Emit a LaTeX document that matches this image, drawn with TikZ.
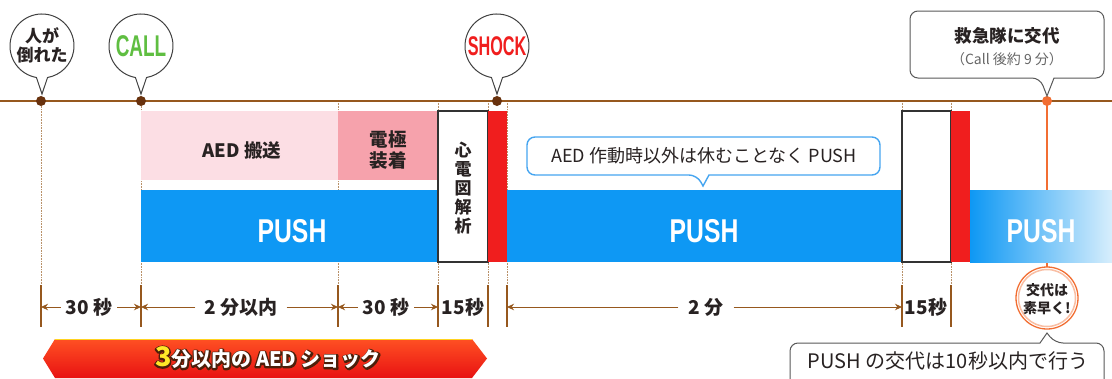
\documentclass[tikz,border=0pt]{standalone}
\usepackage{fontspec}
\usepackage{graphicx}
\setmainfont{Noto Sans CJK JP}
\newfontfamily\latinb{Liberation Sans}
\usetikzlibrary{arrows.meta}
\definecolor{tlbrown}{RGB}{150,88,30}
\definecolor{dotbrown}{RGB}{105,50,14}
\definecolor{guidebrown}{RGB}{185,145,105}
\definecolor{pushblue}{RGB}{14,152,244}
\definecolor{pushlight}{RGB}{215,238,252}
\definecolor{pinkL}{RGB}{252,222,228}
\definecolor{pinkD}{RGB}{246,162,172}
\definecolor{shockred}{RGB}{240,30,30}
\definecolor{callgreen}{RGB}{95,190,65}
\definecolor{txtdark}{RGB}{40,34,34}
\definecolor{calloutblue}{RGB}{70,165,240}
\definecolor{orangeL}{RGB}{242,110,50}
\definecolor{bannerred}{RGB}{232,18,18}
\definecolor{bannertop}{RGB}{255,80,35}
\definecolor{yel}{RGB}{255,232,40}
\newcommand\OLon{\special{pdf:literal direct 0.30 0.12 0.04 RG 3 w 1 j 1 Tr}}
\newcommand\OLoff{\special{pdf:literal direct 0 Tr}}
\newcommand\bannerbody{\fontsize{20}{20}\selectfont 分以内の AED ショック}
\begin{document}
\begin{tikzpicture}[x=1pt,y=-1pt,
  every node/.style={inner sep=0pt},
  guide/.style={draw=guidebrown, line width=0.6pt, densely dotted},
  tline/.style={draw=tlbrown, line width=2pt},
  tick/.style={draw=tlbrown, line width=1.1pt},
  dim/.style={draw=tlbrown, line width=1pt, -{Stealth[length=7pt,width=6.5pt]}},
  dimtxt/.style={text=txtdark, inner xsep=5pt, font=\bfseries\fontsize{19}{19}\selectfont},
  balloon/.style={draw=black!75, line width=1pt, fill=white},
  callout/.style={draw=black!65, line width=1pt, fill=white},
  pushtxt/.style={text=white, font=\latinb\bfseries\fontsize{33}{33}\selectfont},
  bartxt/.style={text=txtdark, align=center, font=\bfseries\fontsize{18.5}{21}\selectfont},
  bannerfont/.style={font=\bfseries}]
\fill[white] (0,0) rectangle (1112,378);
\useasboundingbox (0,0) rectangle (1112,378);

% guides
\foreach \x in {41,141,338,438,488,507,902,951}
  \draw[guide] (\x,101) -- (\x,286);

% orange handover line (partly hidden by bar)
\coordinate (hand) at (1047,101);
\coordinate (quicktop) at (1047,300);
\draw[orangeL, line width=1.6pt] (hand) -- (quicktop);

% pink boxes
\fill[pinkL] (141,111) rectangle (338,180);
\fill[pinkD] (338,111) rectangle (438,180);
\node[bartxt] (aed) at (242,150) {AED 搬送};
\node[bartxt] (pads) at (388,150) {電極\\装着};

% push bars
\fill[pushblue] (141,190) rectangle (438,262);
\fill[pushblue] (507,190) rectangle (902,262);
\shade[left color=pushblue, right color=pushlight] (970,190) rectangle (1112,262);
\node[pushtxt] (p1) at (292,231) {\scalebox{0.75}[1]{PUSH}};
\node[pushtxt] (p2) at (704,231) {\scalebox{0.75}[1]{PUSH}};
\node[pushtxt] (p3) at (1041,231) {\scalebox{0.75}[1]{PUSH}};

% analysis boxes and shocks
\draw[fill=white, draw=black!80, line width=1.2pt] (438,111) rectangle (488,262);
\draw[fill=white, draw=black!80, line width=1.2pt] (902,111) rectangle (951,262);
\fill[shockred] (488,111) rectangle (507,262);
\fill[shockred] (951,111) rectangle (970,262);
\node[text=txtdark, align=center, font=\bfseries\fontsize{17}{19}\selectfont] (ecg) at (463,188) {心\\電\\図\\解\\析};

% timeline
\draw[tline] (0,101) -- (1112,101);
\fill[dotbrown] (41,101) circle (5pt);
\fill[dotbrown] (141,101) circle (5pt);
\fill[dotbrown] (497,101) circle (5pt);
\fill[orangeL] (hand) circle (5pt);

% balloons
\foreach \cx in {42,141,497}
  \draw[balloon] (\cx-5.56,77.5) arc[start angle=260, end angle=-80, radius=32pt] -- (\cx,94) -- cycle;
\node[text=txtdark, align=center, font=\bfseries\fontsize{17}{19}\selectfont] (fall) at (42,45) {人が\\倒れた};
\node[text=callgreen, font=\latinb\bfseries\fontsize{30}{30}\selectfont] (call) at (141,46) {\scalebox{0.63}[1]{CALL}};
\node[text=shockred, font=\latinb\bfseries\fontsize{27}{27}\selectfont] (shock) at (497,46) {\scalebox{0.6}[1]{SHOCK}};

% top right callout
\draw[callout] (1054,78) [rounded corners=8pt] -- (1104,78) -- (1104,11) -- (910,11) -- (910,78) -- (1040,78) [sharp corners] -- (1047,96) -- cycle;
\node[text=txtdark, font=\bfseries\fontsize{17.5}{18}\selectfont] (rescue) at (1007,36) {救急隊に交代};
\node[text=black!60, font=\fontsize{14}{14}\selectfont] (rescue2) at (1007,59) {（Call 後約 9 分）};

% AED callout
\draw[draw=calloutblue, line width=1.4pt, fill=white] (709,175) [rounded corners=8pt] -- (880,175) -- (880,137) -- (527,137) -- (527,175) -- (697,175) [sharp corners] -- (703,186) -- cycle;
\node[text=txtdark, font=\fontsize{18}{18}\selectfont] (cont) at (704,156) {AED 作動時以外は休むことなく PUSH};

% quick handover circle
\draw[fill=white, draw=orangeL, line width=1.3pt] (1047,298) circle (31pt);
\draw[draw=orangeL!45, line width=1.5pt] (1047,298) circle (28.5pt);
\node[text=txtdark, align=center, font=\bfseries\fontsize{14}{18}\selectfont] (quick) at (1047,299) {交代は\\素早く!};

% bottom callout
\draw[callout] (1040,343) [rounded corners=8pt] -- (790,343) -- (790,392) -- (1104,392) -- (1104,343) -- (1055,343) [sharp corners] -- (1047,333) -- cycle;
\node[text=txtdark, font=\fontsize{20}{20}\selectfont] (tenSec) at (948,361) {PUSH の交代は10秒以内で行う};

% dimension ticks
\foreach \x in {41,141,338,438,488,507,902,951}
  \draw[tick] (\x,285) -- (\x,327);
\coordinate (k1) at (41,307);
\coordinate (k2) at (141,307);
\coordinate (k3) at (338,307);
\coordinate (k4) at (438,307);
\coordinate (k6) at (507,307);
\coordinate (k7) at (902,307);
\node[dimtxt] (d1) at (89,307) {30 秒};
\node[dimtxt, inner xsep=9pt] (d2) at (241,307) {2 分以内};
\node[dimtxt] (d3) at (386,307) {30 秒};
\node[dimtxt] (d4) at (463,307) {15秒};
\node[dimtxt, inner xsep=10pt] (d5) at (706,307) {2 分};
\node[dimtxt] (d6) at (926,307) {15秒};
\draw[dim] (d1.west) -- (k1);
\draw[dim] (d1.east) -- (k2);
\draw[dim] (d2.west) -- (k2);
\draw[dim] (d2.east) -- (k3);
\draw[dim] (d3.west) -- (k3);
\draw[dim] (d3.east) -- (k4);
\draw[dim] (d5.west) -- (k6);
\draw[dim] (d5.east) -- (k7);

% banner
\shade[top color=bannertop, bottom color=bannerred] (43,358.5) -- (55,339) -- (472,339) -- (487,358.5) -- (472,378) -- (55,378) -- cycle;
\draw[yel!80!orange, line width=0.8pt] (55,339.4) -- (472,339.4);
\node[bannerfont, text=white] (banner) at (268,358)
  {\rlap{\OLon{\fontsize{27}{27}\selectfont 3}\bannerbody\OLoff}{\color{yel}\fontsize{27}{27}\selectfont 3}\bannerbody};
\end{tikzpicture}
\end{document}
